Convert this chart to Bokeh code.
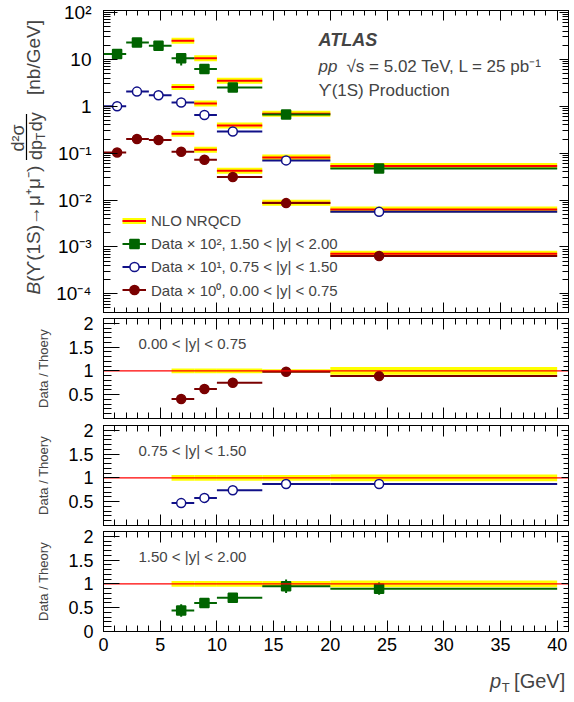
import numpy as np
from bokeh.plotting import figure
from bokeh.layouts import column, row
from bokeh.models import (FixedTicker, LinearAxis, LogAxis, Range1d, Label, Legend,
                          LegendItem, Arrow, Span, CustomJSTickFormatter)
from bokeh.embed import file_html
from bokeh.resources import INLINE

FONT = "Liberation Sans"

# ---------------- data ----------------
bin_lo = [0, 2, 4, 6, 8, 10, 14, 20]
bin_hi = [2, 4, 6, 8, 10, 14, 20, 40]
pt_mean = [1.2, 2.95, 4.85, 6.85, 8.9, 11.4, 16.1, 24.3]

# cross sections as plotted (already multiplied by the scale factor)
xsec_y15_20 = [13.0, 23.0, 19.5, 10.5, 6.2, 2.5, 0.665, 0.047]      # x 10^2
relerr_y15_20 = [0.06, 0.05, 0.05, 0.30, 0.08, 0.07, 0.14, 0.13]
xsec_y075_15 = [1.0, 2.05, 1.71, 1.2, 0.65, 0.29, 0.070, 0.0056]    # x 10^1
relerr_y075_15 = [0.05, 0.04, 0.04, 0.08, 0.05, 0.05, 0.05, 0.10]
xsec_y0_075 = [0.103, 0.20, 0.19, 0.107, 0.072, 0.031, 0.0086, 0.00064]  # x 10^0
relerr_y0_075 = [0.04, 0.04, 0.04, 0.06, 0.05, 0.05, 0.09, 0.10]

th_lo = [6, 8, 10, 14, 20]
th_hi = [8, 10, 14, 20, 40]
nrqcd_y15_20 = [25.0, 10.5, 3.5, 0.69, 0.053]
nrqcd_y075_15 = [2.58, 1.14, 0.39, 0.081, 0.0063]
nrqcd_y0_075 = [0.258, 0.118, 0.042, 0.0088, 0.00072]

ratio_pt = [6.85, 8.9, 11.4, 16.1, 24.3]
ratio_y0_075 = [0.41, 0.62, 0.75, 0.98, 0.89]
ratio_err_y0_075 = [0.02, 0.02, 0.03, 0.09, 0.10]
band_y0_075 = [0.05, 0.05, 0.05, 0.035, 0.08]
ratio_y075_15 = [0.47, 0.58, 0.74, 0.87, 0.87]
ratio_err_y075_15 = [0.02, 0.02, 0.02, 0.04, 0.10]
band_y075_15 = [0.06, 0.06, 0.06, 0.06, 0.07]
ratio_y15_20 = [0.44, 0.60, 0.71, 0.95, 0.90]
ratio_err_y15_20 = [0.13, 0.05, 0.06, 0.14, 0.13]
band_y15_20 = [0.06, 0.06, 0.06, 0.06, 0.07]

x_tick_values = [0, 5, 10, 15, 20, 25, 30, 35, 40]
log_tick_values = [1e-4, 1e-3, 1e-2, 1e-1, 1, 10, 100]
log_tick_labels = ["10⁻⁴", "10⁻³", "10⁻²", "10⁻¹", "1", "10", "10²"]
ratio_tick_values = [0, 0.5, 1, 1.5, 2]
ratio_tick_labels = ["0", "0.5", "1", "1.5", "2"]

legend_labels = ["NLO NRQCD",
                 "Data × 10², 1.50 < |y| < 2.00",
                 "Data × 10¹, 0.75 < |y| < 1.50",
                 "Data × 10⁰, 0.00 < |y| < 0.75"]
range_labels = ["0.00 < |y| < 0.75", "0.75 < |y| < 1.50", "1.50 < |y| < 2.00"]
ratio_axis_labels = ["Data / Thoery", "Data / Thoery", "Data / Theory"]

# ---------------- style ----------------
C_GREEN = "#006400"
C_BLUE = "#101088"
C_RED = "#7a0000"
YELLOW = "#ffff00"
TH_RED = "#ff0000"

W = 572
FRAME_L = 103
FRAME_R = 568
XMAX = 41.0
Y_MIN, Y_MAX = 4e-5, 110.0
MAIN_TOP, MAIN_BOT = 10, 312
RMAX = 2.1
TXT_W = 50            # width of the text strip left of the main panel

blank = CustomJSTickFormatter(code="return ''")
x_minor = list(range(0, 42))
log_minor = [k * 10.0 ** e for e in range(-5, 3) for k in range(2, 10)]
ratio_minor = [round(0.1 * i, 1) for i in range(0, 22)]


def xd(px):
    return (px - FRAME_L) / (FRAME_R - FRAME_L) * XMAX


def main_y(px):
    lt, lb = np.log10(Y_MAX), np.log10(Y_MIN)
    return 10 ** (lt - (px - MAIN_TOP) / (MAIN_BOT - MAIN_TOP) * (lt - lb))


def style_axis(ax, major_in, minor_in, size=None, standoff=0):
    ax.major_tick_in = major_in
    ax.major_tick_out = 0
    ax.minor_tick_in = minor_in
    ax.minor_tick_out = 0
    ax.axis_line_color = "black"
    ax.axis_line_width = 1
    ax.major_tick_line_color = "black"
    ax.minor_tick_line_color = "black"
    ax.major_label_standoff = standoff
    ax.major_label_text_font = FONT
    ax.major_label_text_color = "black"
    if size is None:
        ax.formatter = blank
        ax.major_label_text_font_size = "1px"
    else:
        ax.major_label_text_font_size = size


def make_fig(width, height, y_range, left, top, bottom, log=False):
    p = figure(width=width, height=height, x_range=Range1d(0, XMAX), y_range=y_range,
               y_axis_type="log" if log else "linear",
               output_backend="svg", toolbar_location=None,
               min_border_left=left, min_border_right=W - FRAME_R,
               min_border_top=top, min_border_bottom=bottom,
               background_fill_color="white", border_fill_color="white",
               outline_line_color="black")
    p.grid.visible = False
    return p


def text_fig(width, height, x0, y0):
    # plain canvas whose data units are page pixels (y grows downward)
    t = figure(width=width, height=height, x_range=Range1d(x0, x0 + width),
               y_range=Range1d(y0 + height, y0), output_backend="svg",
               toolbar_location=None, x_axis_location=None, y_axis_location=None,
               min_border=0, outline_line_color=None,
               background_fill_color="white", border_fill_color="white")
    t.grid.visible = False
    return t


# ---------------- main panel ----------------
pm = make_fig(W - TXT_W, 315, Range1d(Y_MIN, Y_MAX), FRAME_L - TXT_W, MAIN_TOP, 3, log=True)
xt = FixedTicker(ticks=x_tick_values, minor_ticks=x_minor)
lt = FixedTicker(ticks=log_tick_values, minor_ticks=log_minor)
pm.xaxis[0].ticker = xt
style_axis(pm.xaxis[0], 10, 5)
pm.yaxis[0].ticker = lt
pm.yaxis[0].major_label_overrides = dict(zip(log_tick_values, log_tick_labels))
style_axis(pm.yaxis[0], 14, 7, "19px", 12)
ax_top = LinearAxis(ticker=xt)
style_axis(ax_top, 10, 5)
pm.add_layout(ax_top, "above")
ax_right = LogAxis(ticker=lt)
style_axis(ax_right, 9, 6)
pm.add_layout(ax_right, "right")

series = [
    (xsec_y15_20, relerr_y15_20, nrqcd_y15_20, C_GREEN, "square", C_GREEN),
    (xsec_y075_15, relerr_y075_15, nrqcd_y075_15, C_BLUE, "circle", "white"),
    (xsec_y0_075, relerr_y0_075, nrqcd_y0_075, C_RED, "circle", C_RED),
]
th_renderers = []
for _, _, th, _, _, _ in series:
    ry = pm.segment(x0=th_lo, x1=th_hi, y0=th, y1=th, line_color=YELLOW, line_width=6)
    rr = pm.segment(x0=th_lo, x1=th_hi, y0=th, y1=th, line_color=TH_RED, line_width=2)
    th_renderers.append((ry, rr))

data_renderers = []
for vals, rel, _, col, mk, fill in series:
    lo = [v * (1 - e) for v, e in zip(vals, rel)]
    hi = [v * (1 + e) for v, e in zip(vals, rel)]
    rh = pm.segment(x0=bin_lo, x1=bin_hi, y0=vals, y1=vals, line_color=col, line_width=2)
    pm.segment(x0=pt_mean, x1=pt_mean, y0=lo, y1=hi, line_color=col, line_width=2)
    rm = pm.scatter(x=pt_mean, y=vals, marker=mk, size=9, fill_color=fill,
                    line_color=col, line_width=1.5)
    data_renderers.append((rh, rm))

items = [LegendItem(label=legend_labels[0], renderers=list(th_renderers[0]))]
for lab, (rh, rm) in zip(legend_labels[1:], data_renderers):
    items.append(LegendItem(label=lab, renderers=[rh, rm]))
leg = Legend(items=items, location=(19, 11), glyph_width=24, glyph_height=23,
             spacing=0, padding=0, margin=0, label_standoff=5,
             label_text_font=FONT, label_text_font_size="15px",
             border_line_alpha=0, background_fill_alpha=0)
pm.add_layout(leg)

# texts in the main panel
pm.add_layout(Label(x=xd(318), y=main_y(39), text="ATLAS", text_font=FONT,
                    text_font_size="18px", text_font_style="bold italic",
                    text_baseline="middle", text_align="left"))
pm.add_layout(Label(x=xd(318), y=main_y(66), text="pp", text_font=FONT,
                    text_font_size="17px", text_font_style="italic",
                    text_baseline="middle", text_align="left"))
pm.add_layout(Label(x=xd(346), y=main_y(66), text="√s = 5.02 TeV, L = 25 pb⁻¹",
                    text_font=FONT, text_font_size="17px",
                    text_baseline="middle", text_align="left"))
pm.add_layout(Label(x=xd(318), y=main_y(90), text="ϒ(1S) Production", text_font=FONT,
                    text_font_size="17px", text_baseline="middle", text_align="left"))

# rotated y-axis title of the main panel, drawn on a strip left of it
ty = text_fig(TXT_W, 315, 0, 0)
ROT = np.pi / 2
ty.add_layout(Label(x=33, y=283, text="B", angle=ROT, text_font=FONT,
                    text_font_size="19px", text_font_style="italic",
                    text_baseline="middle", text_align="right"))
ty.add_layout(Label(x=33, y=283, text="(ϒ(1S)→μ⁺μ⁻)", angle=ROT,
                    text_font=FONT, text_font_size="19px",
                    text_baseline="middle", text_align="left"))
ty.add_layout(Label(x=17, y=133, text="d²σ", angle=ROT, text_font=FONT,
                    text_font_size="18px", text_baseline="middle", text_align="center"))
ty.add_layout(Arrow(end=None, x_start=26, y_start=156, x_end=26, y_end=108,
                    line_color="black", line_width=1.2))
ty.add_layout(Label(x=35, y=156, text="dp", angle=ROT, text_font=FONT,
                    text_font_size="18px", text_baseline="middle", text_align="left"))
ty.add_layout(Label(x=40, y=135, text="T", angle=ROT, text_font=FONT,
                    text_font_size="12px", text_baseline="middle", text_align="left"))
ty.add_layout(Label(x=35, y=126, text="dy", angle=ROT, text_font=FONT,
                    text_font_size="18px", text_baseline="middle", text_align="left"))
ty.add_layout(Label(x=33, y=49, text="[nb/GeV]", angle=ROT, text_font=FONT,
                    text_font_size="19px", text_baseline="middle", text_align="center"))

# ---------------- ratio panels ----------------
ratio_sets = [
    (ratio_y0_075, ratio_err_y0_075, band_y0_075, C_RED, "circle", C_RED),
    (ratio_y075_15, ratio_err_y075_15, band_y075_15, C_BLUE, "circle", "white"),
    (ratio_y15_20, ratio_err_y15_20, band_y15_20, C_GREEN, "square", C_GREEN),
]
geoms = [(106, 3, 3), (107, 4, 3), (133, 3, 30)]
panels = []
for i, ((vals, errs, band, col, mk, fill), (h, top, bot)) in enumerate(zip(ratio_sets, geoms)):
    last = i == 2
    p = make_fig(W, h, Range1d(0, RMAX), FRAME_L, top, bot)
    p.xaxis[0].ticker = FixedTicker(ticks=x_tick_values, minor_ticks=x_minor)
    style_axis(p.xaxis[0], 11, 6, "18px" if last else None, 6)
    yt_vals = ratio_tick_values if last else ratio_tick_values[1:]
    p.yaxis[0].ticker = FixedTicker(ticks=yt_vals, minor_ticks=ratio_minor)
    p.yaxis[0].major_label_overrides = dict(zip(ratio_tick_values, ratio_tick_labels))
    style_axis(p.yaxis[0], 16, 8, "18px", 10)
    p.yaxis[0].axis_label = ratio_axis_labels[i]
    p.yaxis[0].axis_label_text_font = FONT
    p.yaxis[0].axis_label_text_font_size = "13px"
    p.yaxis[0].axis_label_text_font_style = "normal"
    p.yaxis[0].axis_label_standoff = 14
    at = LinearAxis(ticker=FixedTicker(ticks=x_tick_values, minor_ticks=x_minor))
    style_axis(at, 11, 6)
    p.add_layout(at, "above")
    ar = LinearAxis(ticker=FixedTicker(ticks=yt_vals, minor_ticks=ratio_minor))
    style_axis(ar, 7, 5)
    p.add_layout(ar, "right")

    p.quad(left=th_lo, right=th_hi, bottom=[1 - b for b in band], top=[1 + b for b in band],
           fill_color=YELLOW, line_alpha=0)
    p.add_layout(Span(location=1, dimension="width", line_color=TH_RED, line_width=1.2,
                      level="glyph"))
    p.segment(x0=th_lo, x1=th_hi, y0=vals, y1=vals, line_color=col, line_width=2)
    p.segment(x0=ratio_pt, x1=ratio_pt, y0=[v - e for v, e in zip(vals, errs)],
              y1=[v + e for v, e in zip(vals, errs)], line_color=col, line_width=2)
    p.scatter(x=ratio_pt, y=vals, marker=mk, size=9, fill_color=fill, line_color=col,
              line_width=1.5)
    p.add_layout(Label(x=xd(138), y=1.57, text=range_labels[i], text_font=FONT,
                       text_font_size="15px", text_baseline="middle", text_align="left"))
    panels.append(p)

# x-axis title on a strip below the last panel
tx = text_fig(W, 39, 0, 661)
tx.add_layout(Label(x=489, y=680, text="p", text_font=FONT, text_font_size="20px",
                    text_font_style="italic", text_baseline="middle", text_align="right"))
tx.add_layout(Label(x=490, y=687, text="T", text_font=FONT, text_font_size="13px",
                    text_baseline="middle", text_align="left"))
tx.add_layout(Label(x=FRAME_R, y=680, text="[GeV]", text_font=FONT, text_font_size="20px",
                    text_baseline="middle", text_align="right"))

layout = column(row(ty, pm, spacing=0), *panels, tx, spacing=0)
open("out.html", "w").write(file_html(layout, INLINE))
